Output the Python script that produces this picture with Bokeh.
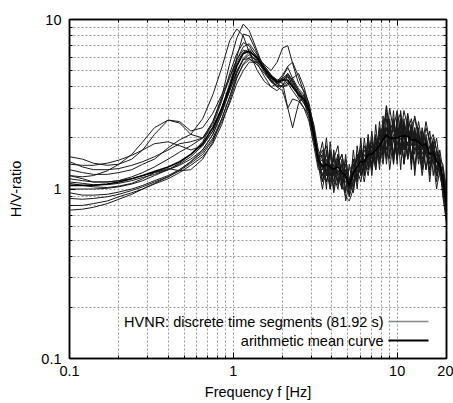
from bokeh.plotting import figure
from bokeh.models import (FixedTicker, LogAxis, CustomJSTickFormatter, Label, Arrow)
from bokeh.embed import file_html
from bokeh.resources import INLINE

FONT = "Liberation Sans"
FS = "14.5px"

freq = [0.1, 0.12, 0.14, 0.17, 0.2, 0.24, 0.28, 0.33, 0.4, 0.47, 0.55, 0.65, 0.75, 0.85, 0.95,
        1.05, 1.15, 1.25, 1.4, 1.55, 1.7, 1.85, 2.0, 2.15, 2.3, 2.5, 2.7, 2.9, 3.1, 3.3,
        3.5, 3.7, 3.9, 4.1, 4.35, 4.6, 4.85, 5.1, 5.4, 5.7, 6.0, 6.3, 6.65, 7.0, 7.4, 7.8,
        8.2, 8.6, 9.0, 9.5, 10.0, 10.5, 11.0, 11.6, 12.2, 12.8, 13.5, 14.2, 15.0, 15.8,
        16.6, 17.4, 18.2, 19.0, 20.0]

seg_a = [1.55, 1.5, 1.42, 1.38, 1.4, 1.5, 1.7, 2.1, 2.55, 2.5, 2.2, 2.3, 2.8, 3.6, 4.6,
         5.8, 6.6, 6.4, 5.5, 4.6, 4.0, 3.8, 4.1, 4.6, 4.2, 3.7, 3.3, 2.6, 1.9, 1.45,
         1.9, 1.2, 1.7, 1.0, 1.5, 1.05, 1.6, 0.9, 1.7, 1.1, 2.0, 1.2, 2.1, 1.3, 2.4, 1.4, 2.7, 1.5,
         2.5, 1.4, 2.8, 1.6, 2.6, 1.5, 2.4, 1.3, 2.3, 1.4, 2.1, 1.2, 1.9, 1.2, 1.6, 1.0, 0.8]
seg_b = [1.45, 1.35, 1.3, 1.3, 1.32, 1.38, 1.45, 1.55, 1.7, 1.85, 1.9, 2.0, 2.5, 3.5, 5.5,
         7.8, 9.4, 8.6, 6.5, 5.0, 4.3, 4.0, 4.6, 5.2, 4.5, 3.9, 3.6, 3.0, 2.2, 1.6,
         1.1, 1.7, 1.0, 1.6, 1.1, 1.5, 0.95, 1.4, 1.0, 1.8, 1.2, 2.0, 1.3, 2.2, 1.4, 2.5, 1.6, 3.1,
         1.5, 2.6, 1.4, 2.9, 1.7, 2.5, 1.3, 2.2, 1.5, 2.1, 1.3, 2.0, 1.2, 1.7, 1.3, 1.2, 0.7]
seg_c = [1.3, 1.25, 1.22, 1.22, 1.25, 1.3, 1.4, 1.5, 1.75, 1.95, 2.1, 2.6, 3.6, 5.2, 7.5,
         8.8, 8.0, 6.4, 5.0, 4.3, 4.0, 4.2, 4.4, 4.7, 4.3, 3.5, 3.2, 2.8, 2.0, 1.4,
         1.6, 1.0, 1.9, 1.2, 1.0, 1.4, 0.85, 1.1, 1.5, 1.0, 1.7, 1.3, 1.9, 1.2, 2.1, 1.3, 2.3, 1.4,
         2.2, 1.5, 2.6, 1.3, 2.4, 1.6, 2.2, 1.2, 2.0, 1.3, 1.9, 1.1, 1.8, 1.1, 1.5, 0.9, 0.65]
seg_d = [1.2, 1.15, 1.1, 1.1, 1.12, 1.18, 1.25, 1.35, 1.5, 1.65, 1.8, 2.0, 2.3, 2.9, 3.8,
         4.9, 5.9, 6.4, 6.0, 5.4, 5.0, 5.6, 6.8, 7.0, 5.5, 4.2, 3.8, 3.2, 2.3, 1.6,
         1.3, 2.0, 1.2, 1.5, 1.8, 1.1, 1.4, 1.0, 1.2, 1.6, 1.3, 1.8, 1.5, 2.0, 1.3, 2.3, 1.5, 2.6,
         1.6, 2.9, 1.5, 2.4, 1.4, 2.7, 1.5, 2.3, 1.4, 2.0, 1.6, 1.3, 1.9, 1.3, 1.7, 1.3, 0.9]
seg_e = [1.15, 1.12, 1.1, 1.1, 1.12, 1.15, 1.2, 1.25, 1.3, 1.4, 1.55, 1.8, 2.2, 2.9, 4.0,
         5.4, 6.3, 6.5, 6.0, 5.2, 4.6, 4.2, 4.0, 4.1, 4.5, 4.8, 4.0, 3.1, 2.2, 1.5,
         1.2, 1.5, 1.1, 1.7, 1.2, 1.0, 1.5, 1.15, 0.95, 1.4, 1.6, 1.2, 1.8, 1.4, 2.0, 1.5, 2.1, 1.7,
         2.4, 1.4, 2.2, 1.6, 2.5, 1.5, 2.1, 1.7, 1.9, 1.3, 2.0, 1.5, 1.6, 1.2, 1.4, 1.1, 0.75]
seg_f = [1.08, 1.05, 1.03, 1.02, 1.04, 1.08, 1.15, 1.25, 1.32, 1.28, 1.3, 1.5, 1.9, 2.6, 3.5,
         4.6, 5.4, 5.8, 5.6, 5.1, 4.6, 4.3, 4.2, 3.0, 2.3, 3.2, 3.6, 3.0, 2.4, 1.7,
         1.5, 1.1, 1.4, 0.95, 1.3, 1.1, 0.9, 0.85, 1.0, 1.3, 1.1, 1.5, 1.2, 1.7, 1.3, 1.9, 1.4, 2.1,
         1.3, 2.0, 1.5, 2.2, 1.4, 1.9, 1.6, 1.4, 1.8, 1.2, 1.7, 1.3, 1.5, 1.0, 1.3, 0.95, 0.62]
seg_g = [1.0, 1.0, 1.0, 1.01, 1.03, 1.07, 1.12, 1.2, 1.3, 1.42, 1.6, 1.9, 2.5, 3.4, 4.5,
         5.8, 6.9, 7.2, 6.2, 5.3, 4.7, 4.4, 4.5, 4.2, 3.8, 3.4, 3.0, 2.7, 2.0, 1.4,
         1.0, 1.4, 1.6, 1.2, 1.5, 1.0, 1.3, 1.1, 1.4, 1.1, 1.5, 1.3, 1.7, 1.4, 1.9, 1.6, 2.2, 1.5,
         2.6, 1.6, 2.3, 1.8, 2.1, 1.5, 2.4, 1.6, 2.2, 1.5, 1.8, 1.4, 1.7, 1.3, 1.5, 1.1, 0.8]
seg_h = [0.95, 0.92, 0.92, 0.93, 0.96, 1.0, 1.05, 1.12, 1.2, 1.3, 1.45, 1.65, 2.0, 2.6, 3.5,
         4.8, 5.8, 6.2, 5.7, 4.9, 4.3, 4.0, 4.1, 4.3, 4.0, 3.7, 3.4, 2.9, 2.1, 1.5,
         1.7, 1.3, 1.2, 1.4, 1.05, 1.3, 1.0, 0.95, 1.2, 1.5, 1.3, 1.6, 1.4, 1.8, 1.6, 2.0, 1.7, 2.3,
         1.8, 2.1, 1.5, 2.5, 1.7, 2.2, 1.4, 2.1, 1.6, 1.9, 1.3, 1.8, 1.4, 1.5, 1.2, 1.0, 0.7]
seg_i = [0.88, 0.87, 0.88, 0.9, 0.93, 0.98, 1.03, 1.1, 1.18, 1.28, 1.42, 1.6, 1.95, 2.5, 3.2,
         4.2, 5.0, 5.6, 5.6, 5.0, 4.4, 4.0, 3.8, 3.0, 3.4, 3.3, 3.0, 2.5, 1.8, 1.3,
         1.3, 1.6, 1.4, 1.1, 1.6, 1.2, 1.1, 1.0, 1.1, 1.3, 1.7, 1.4, 1.6, 1.3, 1.8, 2.1, 1.6, 1.9,
         2.2, 2.5, 1.7, 2.0, 1.8, 2.3, 1.6, 1.9, 2.1, 1.6, 1.9, 1.4, 1.6, 1.3, 1.4, 1.1, 0.85]
seg_j = [0.8, 0.8, 0.82, 0.85, 0.9, 0.95, 1.0, 1.07, 1.15, 1.25, 1.38, 1.55, 1.85, 2.4, 3.3,
         4.5, 5.5, 6.0, 5.8, 5.1, 4.5, 4.2, 4.3, 4.8, 4.4, 3.8, 3.4, 2.8, 2.0, 1.4,
         1.4, 1.3, 1.0, 1.3, 1.4, 1.6, 1.2, 1.3, 1.4, 1.2, 1.4, 1.1, 1.6, 1.9, 1.5, 1.7, 2.4, 2.0,
         3.0, 2.2, 1.8, 2.6, 2.0, 2.8, 2.1, 1.8, 2.5, 1.9, 1.7, 2.2, 1.5, 1.6, 1.3, 1.3, 0.9]
seg_k = [0.75, 0.76, 0.78, 0.82, 0.87, 0.93, 1.0, 1.08, 1.18, 1.3, 1.45, 1.7, 2.1, 2.8, 3.8,
         5.0, 5.8, 5.9, 5.4, 4.8, 4.3, 4.1, 4.0, 4.2, 4.1, 3.6, 3.2, 2.9, 2.2, 1.55,
         1.2, 1.1, 1.3, 1.5, 1.2, 1.4, 1.15, 1.0, 1.3, 1.5, 1.8, 1.4, 1.3, 1.6, 1.9, 1.5, 2.1, 1.7,
         1.9, 1.6, 2.3, 1.8, 1.5, 2.2, 2.6, 1.9, 1.6, 2.3, 1.8, 1.6, 2.0, 1.7, 1.3, 1.2, 0.9]
seg_l = [1.4, 1.38, 1.38, 1.42, 1.48, 1.58, 1.7, 1.85, 1.9, 1.8, 1.7, 1.8, 2.2, 3.0, 4.2,
         5.6, 6.4, 6.7, 6.1, 5.3, 4.7, 4.3, 4.4, 4.6, 4.1, 3.6, 3.3, 2.8, 2.0, 1.4,
         1.5, 1.2, 1.6, 1.3, 1.1, 1.25, 1.3, 1.1, 1.5, 1.2, 1.3, 1.7, 1.5, 1.4, 1.6, 2.0, 2.4, 2.8,
         1.9, 2.3, 2.9, 2.1, 2.9, 2.3, 2.0, 2.7, 2.1, 1.8, 2.5, 1.9, 2.1, 1.7, 1.5, 1.4, 1.0]
seg_m = [1.1, 1.08, 1.06, 1.06, 1.08, 1.12, 1.17, 1.22, 1.3, 1.38, 1.5, 1.7, 2.1, 2.8, 4.0,
         6.0, 8.2, 8.0, 6.3, 5.0, 4.5, 4.3, 4.7, 5.3, 5.6, 4.6, 3.7, 3.0, 2.1, 1.45,
         1.1, 1.4, 1.2, 1.3, 1.6, 1.1, 1.2, 0.9, 1.1, 1.4, 1.6, 1.3, 1.6, 1.8, 1.4, 1.8, 2.1, 3.1,
         2.2, 1.9, 2.5, 2.8, 2.0, 1.8, 2.4, 2.6, 2.0, 1.7, 2.3, 1.9, 1.6, 2.0, 1.4, 1.3, 0.95]
seg_n = [1.2, 1.18, 1.2, 1.28, 1.4, 1.6, 1.9, 2.3, 2.55, 2.45, 2.1, 2.0, 2.4, 3.3, 4.8,
         6.3, 7.3, 7.0, 5.9, 5.0, 4.4, 4.2, 4.5, 4.8, 4.3, 3.8, 3.5, 3.0, 2.2, 1.5,
         1.6, 1.8, 1.3, 1.2, 1.4, 1.6, 1.2, 1.1, 1.3, 1.6, 1.2, 1.4, 2.0, 1.5, 1.7, 2.2, 1.7, 2.3,
         1.9, 2.4, 2.1, 1.7, 2.2, 2.4, 1.8, 2.3, 1.7, 2.2, 1.6, 1.5, 1.9, 1.5, 1.3, 1.1, 0.8]

mean_curve = [1.05, 1.05, 1.05, 1.07, 1.1, 1.15, 1.2, 1.27, 1.35, 1.45, 1.6, 1.85, 2.3, 3.0, 4.0,
              5.3, 6.3, 6.5, 5.9, 5.1, 4.6, 4.3, 4.4, 4.4, 4.0, 3.6, 3.4, 2.9, 2.1, 1.5,
              1.35, 1.4, 1.35, 1.3, 1.35, 1.25, 1.2, 1.05, 1.25, 1.35, 1.45, 1.45, 1.6, 1.6, 1.7, 1.8,
              1.95, 2.1, 2.0, 2.0, 2.0, 2.05, 2.05, 2.05, 1.95, 1.95, 1.9, 1.8, 1.85, 1.6,
              1.65, 1.45, 1.4, 1.15, 0.8]

segments = [seg_a, seg_b, seg_c, seg_d, seg_e, seg_f, seg_g,
            seg_h, seg_i, seg_j, seg_k, seg_l, seg_m, seg_n]

x_major = [0.1, 1, 10, 20]
x_minor = [0.2, 0.3, 0.4, 0.5, 0.6, 0.7, 0.8, 0.9, 2, 3, 4, 5, 6, 7, 8, 9, 20]
y_major = [0.1, 1, 10]
y_minor = [0.2, 0.3, 0.4, 0.5, 0.6, 0.7, 0.8, 0.9, 2, 3, 4, 5, 6, 7, 8, 9]

legend_labels = ["HVNR: discrete time segments (81.92 s)", "arithmetic mean curve"]

p = figure(width=453, height=403, frame_width=377, frame_height=339,
           x_axis_type="log", y_axis_type="log",
           x_range=(0.1, 20), y_range=(0.1, 10),
           output_backend="svg", toolbar_location=None,
           min_border_left=69, min_border_right=7, min_border_top=19, min_border_bottom=45)
p.background_fill_color = "white"
p.border_fill_color = "white"
p.outline_line_color = "black"
p.outline_line_width = 1.5

fmt = CustomJSTickFormatter(code="return String(tick);")
blank = CustomJSTickFormatter(code="return '';")

for ax, maj, mnr in ((p.xaxis[0], x_major, x_minor), (p.yaxis[0], y_major, y_minor)):
    ax.ticker = FixedTicker(ticks=maj, minor_ticks=mnr)
    ax.formatter = fmt
    ax.major_tick_in = 6
    ax.major_tick_out = 0
    ax.minor_tick_in = 3
    ax.minor_tick_out = 0
    ax.axis_line_color = "black"
    ax.axis_line_width = 1.5
    ax.major_label_text_font = FONT
    ax.major_label_text_font_size = FS
    ax.major_label_text_color = "black"
    ax.axis_label_text_font = FONT
    ax.axis_label_text_font_size = FS
    ax.axis_label_text_font_style = "normal"
    ax.axis_label_text_color = "black"

p.xaxis[0].axis_label = "Frequency f [Hz]"
p.yaxis[0].axis_label = "H/V-ratio"
p.xaxis[0].major_label_standoff = 7
p.yaxis[0].major_label_standoff = 8
p.xaxis[0].axis_label_standoff = 5
p.yaxis[0].axis_label_standoff = 14

# mirrored axes (ticks only, no labels)
for loc, maj, mnr in (("above", x_major, x_minor), ("right", y_major, y_minor)):
    ax = LogAxis(ticker=FixedTicker(ticks=maj, minor_ticks=mnr), formatter=blank,
                 major_tick_in=6, major_tick_out=0, minor_tick_in=3, minor_tick_out=0,
                 major_label_text_font_size="1px", major_label_text_color=None,
                 major_label_standoff=0,
                 axis_line_color="black", axis_line_width=1.5)
    p.add_layout(ax, loc)

for g, maj, mnr in ((p.xgrid[0], x_major, x_minor), (p.ygrid[0], y_major, y_minor)):
    g.ticker = FixedTicker(ticks=maj, minor_ticks=mnr)
    g.grid_line_color = "#9a9a9a"
    g.grid_line_dash = "2 2"
    g.grid_line_width = 1
    g.minor_grid_line_color = "#9a9a9a"
    g.minor_grid_line_dash = "2 2"
    g.minor_grid_line_width = 1

for s in segments:
    p.line(freq, s, line_color="#1a1a1a", line_width=1)
p.line(freq, mean_curve, line_color="black", line_width=1.6)

# legend (text right-aligned, sample line to the right)
for i, (lab, col, lw) in enumerate(zip(legend_labels, ["#888888", "black"], [1.5, 2.2])):
    yy = 37 - 19 * i
    p.add_layout(Label(x=314, y=yy, x_units="screen", y_units="screen", text=lab,
                       text_align="right", text_baseline="middle",
                       text_font=FONT, text_font_size=FS, text_color="black"))
    p.add_layout(Arrow(x_start=319, y_start=yy, x_end=359, y_end=yy,
                       start_units="screen", end_units="screen", end=None,
                       line_color=col, line_width=lw))

open("out.html", "w").write(file_html(p, INLINE))
